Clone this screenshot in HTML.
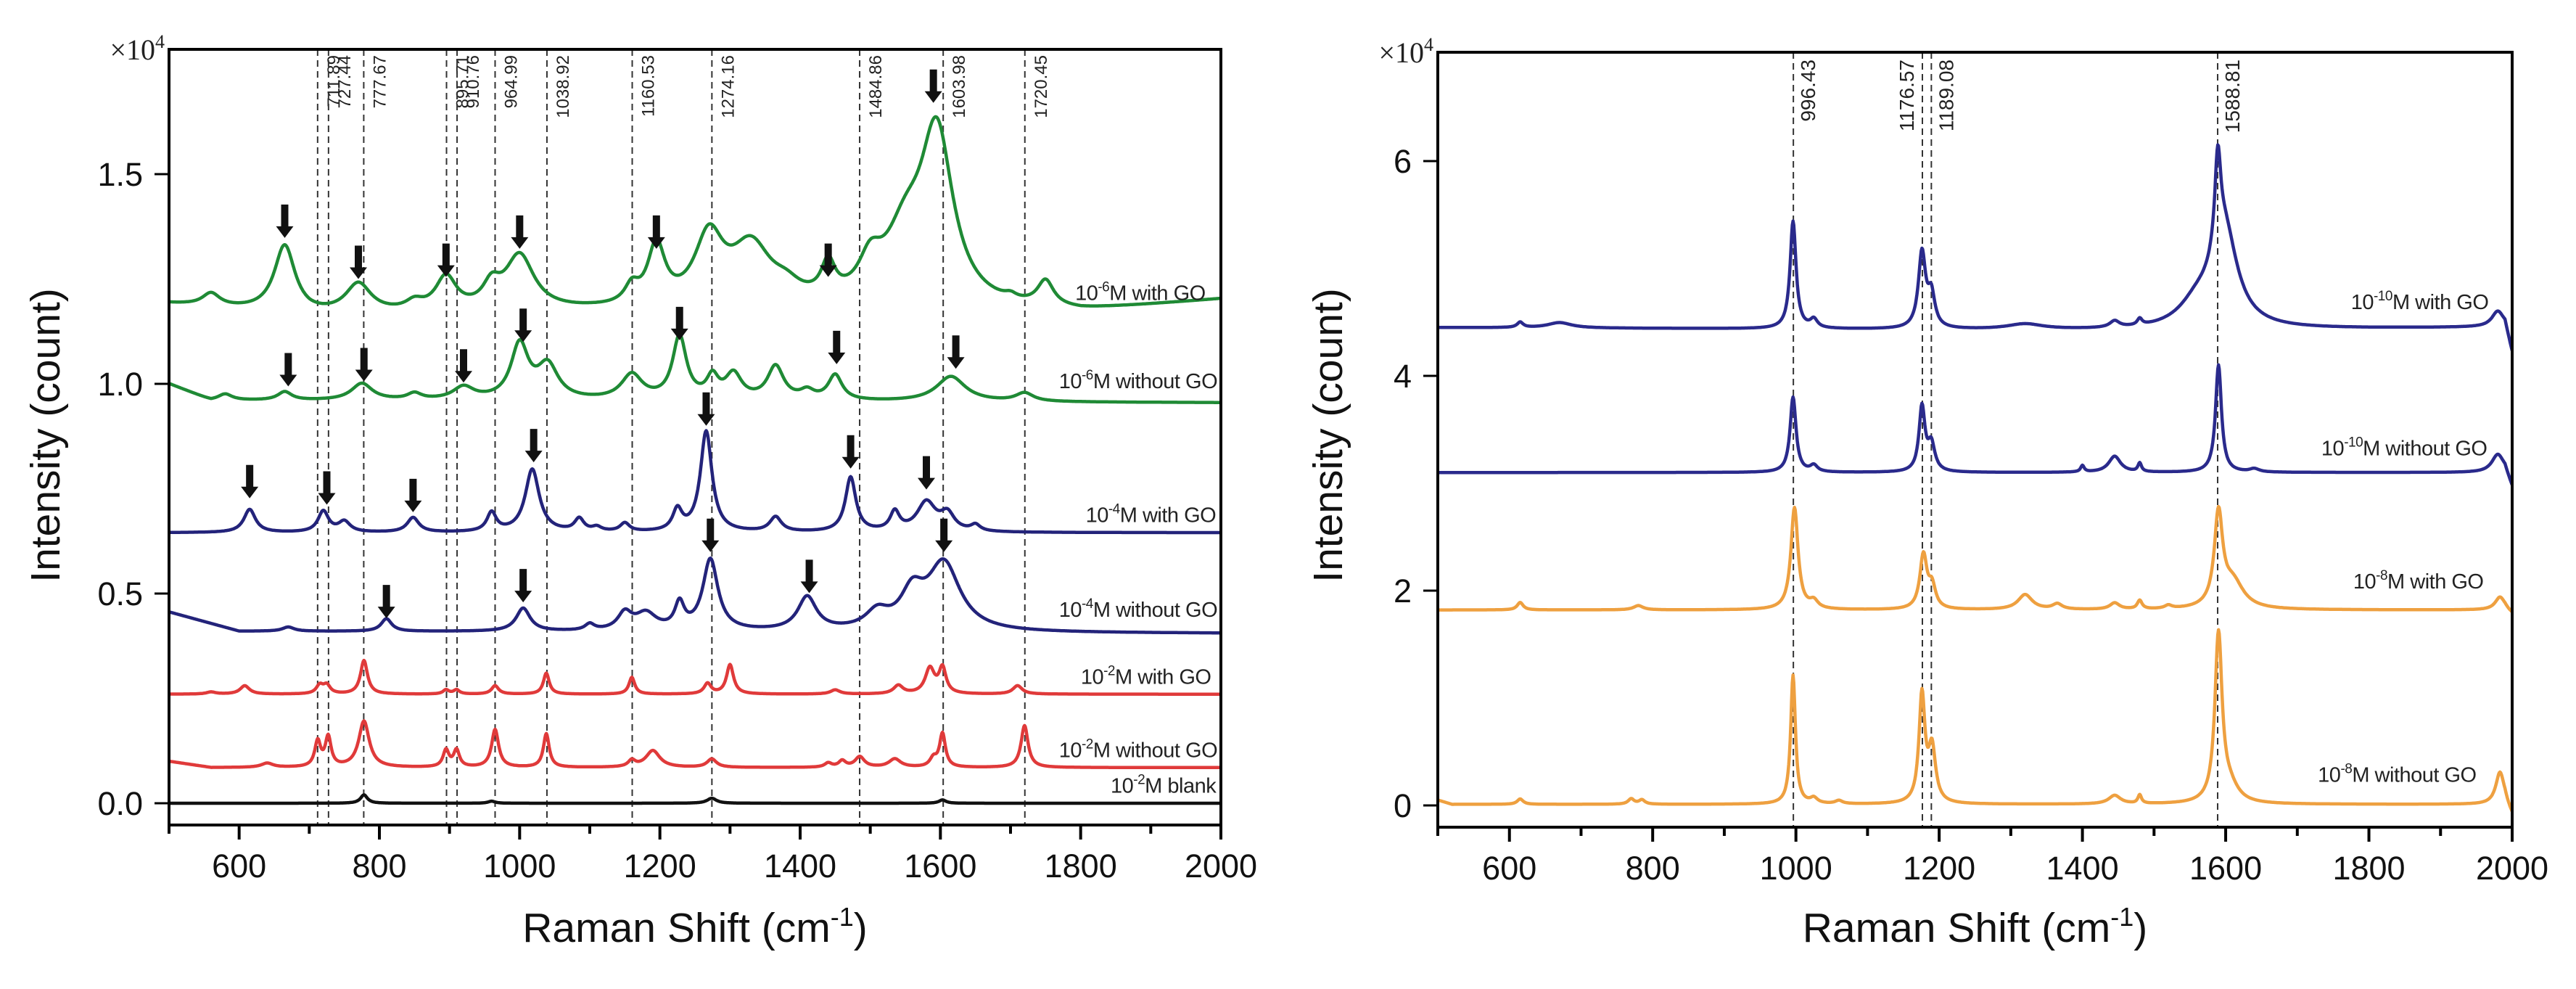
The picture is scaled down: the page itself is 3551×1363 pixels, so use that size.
<!DOCTYPE html>
<html><head><meta charset="utf-8"><style>
html,body{margin:0;padding:0;background:#fff;}
svg{display:block;font-family:"Liberation Sans",Arial,sans-serif;}
</style></head><body>
<svg id="fig" width="3551" height="1363" viewBox="0 0 3551 1363" xmlns="http://www.w3.org/2000/svg">
<defs>
<clipPath id="clipL"><rect x="233" y="68" width="1450" height="1069"/></clipPath>
<clipPath id="clipR"><rect x="1982" y="72" width="1481" height="1068"/></clipPath>
</defs>
<g id="left"></g>
<g id="right"></g>
</svg>
<script>
// ---------- LEFT CHART DATA (intensity ×10^4) ----------
const leftXTicks = [600, 800, 1000, 1200, 1400, 1600, 1800, 2000];
const leftYTicks = [0.0, 0.5, 1.0, 1.5];
const leftYTickLabels = ["0.0", "0.5", "1.0", "1.5"];
const leftRefLines = [711.89, 727.44, 777.67, 895.71, 910.76, 964.99, 1038.92, 1160.53, 1274.16, 1484.86, 1603.98, 1720.45];
const leftRefLabels = ["711.89", "727.44", "777.67", "895.71", "910.76", "964.99", "1038.92", "1160.53", "1274.16", "1484.86", "1603.98", "1720.45"];

const g1BaseX = [500, 700, 1100, 1400, 1800, 2000];
const g1BaseY = [1.19, 1.16, 1.17, 1.17, 1.17, 1.2];
const g1Pos = [560, 665, 770, 850, 895, 960, 1000, 1160, 1195, 1270, 1330, 1380, 1440, 1500, 1550, 1595, 1700, 1750];
const g1Amp = [0.03, 0.16, 0.07, 0.02, 0.08, 0.05, 0.13, 0.04, 0.14, 0.16, 0.14, 0.03, 0.08, 0.08, 0.15, 0.40, 0.01, 0.06];
const g1Wid = [15, 18, 22, 15, 18, 15, 25, 12, 15, 25, 35, 25, 12, 20, 35, 28, 10, 14];

const g2BaseX = [500, 560, 2000];
const g2BaseY = [1.0, 0.96, 0.955];
const g2Pos = [580, 665, 775, 850, 920, 1000, 1040, 1160, 1228, 1275, 1305, 1365, 1410, 1450, 1615, 1720];
const g2Amp = [0.015, 0.02, 0.04, 0.015, 0.03, 0.13, 0.08, 0.06, 0.15, 0.05, 0.06, 0.08, 0.02, 0.06, 0.06, 0.02];
const g2Wid = [12, 12, 18, 12, 18, 15, 18, 18, 12, 10, 14, 14, 12, 12, 25, 15];

const b1BaseX = [500, 2000];
const b1BaseY = [0.645, 0.645];
const b1Pos = [615, 720, 750, 848, 960, 1018, 1085, 1110, 1150, 1225, 1266, 1365, 1472, 1535, 1580, 1610, 1650];
const b1Amp = [0.055, 0.05, 0.025, 0.035, 0.045, 0.15, 0.03, 0.01, 0.02, 0.05, 0.24, 0.035, 0.13, 0.045, 0.07, 0.04, 0.015];
const b1Wid = [10, 9, 10, 10, 8, 12, 8, 8, 8, 8, 10, 10, 9, 8, 16, 12, 8];

const b2BaseX = [500, 600, 2000];
const b2BaseY = [0.456, 0.41, 0.405];
const b2Pos = [670, 810, 1005, 1100, 1150, 1180, 1228, 1272, 1410, 1510, 1560, 1605];
const b2Amp = [0.01, 0.03, 0.055, 0.015, 0.04, 0.04, 0.06, 0.17, 0.08, 0.04, 0.08, 0.16];
const b2Wid = [10, 9, 12, 8, 12, 18, 8, 13, 16, 20, 20, 28];

const r1BaseX = [500, 2000];
const r1BaseY = [0.26, 0.26];
const r1Pos = [560, 608, 715, 725, 778, 895, 910, 965, 1038, 1160, 1268, 1300, 1450, 1540, 1585, 1603, 1710];
const r1Amp = [0.005, 0.02, 0.02, 0.02, 0.08, 0.01, 0.01, 0.02, 0.05, 0.04, 0.025, 0.07, 0.01, 0.02, 0.06, 0.06, 0.02];
const r1Wid = [8, 8, 6, 6, 6, 5, 5, 6, 5, 5, 6, 6, 8, 8, 8, 6, 8];

const r2BaseX = [500, 560, 2000];
const r2BaseY = [0.10, 0.085, 0.085];
const r2Pos = [640, 712, 727, 778, 895, 910, 965, 1038, 1160, 1190, 1274, 1440, 1460, 1485, 1535, 1590, 1603, 1720];
const r2Amp = [0.01, 0.06, 0.07, 0.11, 0.04, 0.04, 0.09, 0.08, 0.015, 0.04, 0.02, 0.01, 0.015, 0.025, 0.02, 0.02, 0.08, 0.10];
const r2Wid = [10, 5, 5, 9, 5, 5, 6, 5, 6, 12, 8, 6, 6, 8, 10, 6, 5, 6];

const kBaseX = [500, 2000];
const kBaseY = [0.0, 0.0];
const kPos = [778, 960, 1274, 1603];
const kAmp = [0.02, 0.005, 0.012, 0.008];
const kWid = [6, 6, 8, 6];

const leftArrowX = [665, 770, 895, 1000, 1195, 1440, 1590, 670, 778, 920, 1005, 1228, 1452, 1622, 615, 725, 848, 1020, 1266, 1472, 1580, 810, 1005, 1272, 1413, 1605];
const leftArrowY = [1.348, 1.25, 1.255, 1.322, 1.322, 1.255, 1.67, 0.994, 1.006, 1.003, 1.10, 1.104, 1.047, 1.036, 0.727, 0.712, 0.694, 0.813, 0.90, 0.798, 0.748, 0.441, 0.479, 0.599, 0.501, 0.599];

const leftLabelExp = ["-6", "-6", "-4", "-4", "-2", "-2", "-2"];
const leftLabelText = ["M with GO", "M without GO", "M with GO", "M without GO", "M with GO", "M without GO", "M blank"];
const leftLabelX = [1978, 1995, 1993, 1995, 1986, 1995, 1993];
const leftLabelY = [1.20, 0.99, 0.67, 0.445, 0.285, 0.11, 0.025];

// ---------- RIGHT CHART DATA (intensity ×10^4) ----------
const rightXTicks = [600, 800, 1000, 1200, 1400, 1600, 1800, 2000];
const rightYTicks = [0, 2, 4, 6];
const rightYTickLabels = ["0", "2", "4", "6"];
const rightRefLines = [996.43, 1176.57, 1189.08, 1588.81];
const rightRefLabels = ["996.43", "1176.57", "1189.08", "1588.81"];

const rb1BaseX = [500, 1500, 1950, 1990, 2000];
const rb1BaseY = [4.45, 4.42, 4.45, 4.45, 4.2];
const rb1Pos = [615, 670, 996, 1025, 1176, 1189, 1320, 1445, 1480, 1560, 1589, 1598, 1980];
const rb1Amp = [0.05, 0.05, 1.0, 0.08, 0.7, 0.3, 0.05, 0.06, 0.06, 0.2, 0.85, 0.9, 0.15];
const rb1Wid = [5, 20, 5, 6, 6, 6, 30, 8, 4, 30, 5, 22, 10];

const rb2BaseX = [500, 1990, 2000];
const rb2BaseY = [3.1, 3.1, 2.95];
const rb2Pos = [996, 1025, 1176, 1189, 1400, 1445, 1480, 1590, 1640, 1980];
const rb2Amp = [0.7, 0.06, 0.6, 0.25, 0.06, 0.15, 0.08, 1.0, 0.03, 0.17];
const rb2Wid = [5, 6, 5, 6, 3, 10, 3, 5, 8, 10];

const ro1BaseX = [500, 1990, 2000];
const ro1BaseY = [1.82, 1.82, 1.78];
const ro1Pos = [615, 780, 998, 1025, 1178, 1190, 1320, 1365, 1445, 1480, 1520, 1590, 1610, 1983];
const ro1Amp = [0.07, 0.04, 0.95, 0.07, 0.5, 0.2, 0.14, 0.05, 0.06, 0.08, 0.03, 0.85, 0.25, 0.12];
const ro1Wid = [5, 8, 6, 7, 6, 6, 12, 8, 8, 4, 6, 7, 18, 8];

const ro2BaseX = [500, 520, 1990, 2000];
const ro2BaseY = [0.05, 0.01, 0.01, -0.1];
const ro2Pos = [615, 770, 785, 996, 1025, 1060, 1176, 1190, 1445, 1480, 1590, 1605, 1983];
const ro2Amp = [0.05, 0.05, 0.04, 1.2, 0.05, 0.03, 1.0, 0.5, 0.08, 0.08, 1.55, 0.15, 0.3];
const ro2Wid = [5, 5, 5, 4, 6, 6, 5, 6, 10, 3, 6, 15, 7];

const rightLabelExp = ["-10", "-10", "-8", "-8"];
const rightLabelText = ["M with GO", "M without GO", "M with GO", "M without GO"];
const rightLabelX = [1967, 1965, 1960, 1950];
const rightLabelY = [4.62, 3.26, 2.02, 0.22];

// ---------- helpers ----------
const NS = "http://www.w3.org/2000/svg";
function mk(tag, attrs, parent) {
  const e = document.createElementNS(NS, tag);
  for (const k in attrs) e.setAttribute(k, attrs[k]);
  if (parent) parent.appendChild(e);
  return e;
}
function interp(xs, ys, x) {
  if (x <= xs[0]) return ys[0];
  for (let i = 1; i < xs.length; i++) {
    if (x <= xs[i]) { const t = (x - xs[i-1]) / (xs[i] - xs[i-1]); return ys[i-1] + t * (ys[i] - ys[i-1]); }
  }
  return ys[ys.length - 1];
}
function spectrum(bx, by, pos, amp, wid, x) {
  let y = interp(bx, by, x);
  for (let i = 0; i < pos.length; i++) { const d = (x - pos[i]) / wid[i]; y += amp[i] / (1 + d * d); }
  return y;
}

function drawChart(cfg) {
  const g = cfg.g;
  const sx = v => cfg.x0 + (v - 500) / 1500 * (cfg.x1 - cfg.x0);
  const sy = v => cfg.yZero - v * cfg.pxPerUnit;
  cfg.refLines.forEach((v, i) => {
    const ln = mk("line", {x1: sx(v), x2: sx(v), y1: cfg.yTop, y2: cfg.yBot, stroke: "#333", "stroke-width": 2, "stroke-dasharray": "9,6"}, g);
    
    
    const left = cfg.labelLeft && cfg.labelLeft[i];
    const tx = left ? sx(v) - 12 : sx(v) + 30;
    const t = mk("text", {x: tx, y: cfg.refLabelY, "font-size": cfg.refFont, fill: "#222", "text-anchor": "end", transform: "rotate(-90 " + tx + " " + cfg.refLabelY + ")"}, g);
    t.textContent = cfg.refLabels[i];
    
    
  });
  const clip = mk("g", {"clip-path": cfg.clip}, g);
  cfg.series.forEach(s => {
    let d = "";
    for (let x = 500; x <= 2000; x += 1) {
      const y = spectrum(s.bx, s.by, s.pos, s.amp, s.wid, x);
      d += (x === 500 ? "M" : "L") + sx(x).toFixed(1) + "," + sy(y).toFixed(1);
    }
    const p = mk("path", {d: d, fill: "none", stroke: s.color, "stroke-width": 4.5, "stroke-linejoin": "round"}, clip);
    
    
  });
  const fr = mk("rect", {x: cfg.x0, y: cfg.yTop, width: cfg.x1 - cfg.x0, height: cfg.yBot - cfg.yTop, fill: "none", stroke: "#000", "stroke-width": 4}, g);
  
  
  for (let v = 500; v <= 2000; v += 100) {
    const major = cfg.xTicks.indexOf(v) >= 0;
    const tk = mk("line", {x1: sx(v), x2: sx(v), y1: cfg.yBot, y2: cfg.yBot + (major ? 20 : 12), stroke: "#000", "stroke-width": 4}, g);
    
    
  }
  cfg.xTicks.forEach(v => {
    const t = mk("text", {x: sx(v), y: cfg.yBot + 72, "font-size": 45, "text-anchor": "middle", fill: "#111"}, g);
    t.textContent = String(v);
    
    
  });
  cfg.yTicks.forEach((v, i) => {
    const tk = mk("line", {x1: cfg.x0 - 20, x2: cfg.x0, y1: sy(v), y2: sy(v), stroke: "#000", "stroke-width": 3}, g);
    
    
    const t = mk("text", {x: cfg.x0 - 36, y: sy(v) + 16, "font-size": 45, "text-anchor": "end", fill: "#111"}, g);
    t.textContent = cfg.yTickLabels[i];
    
    
  });
  const m = mk("text", {x: cfg.x0 - 6, y: cfg.yTop + 14, "font-size": 40, "text-anchor": "end", fill: "#222", "font-family": "Liberation Serif, serif"}, g);
  
  
  m.appendChild(document.createTextNode("\u00d710"));
  const ms = mk("tspan", {dy: -16, "font-size": 26}, m); ms.textContent = "4";
  const xt = mk("text", {x: (cfg.x0 + cfg.x1) / 2, y: 1298, "font-size": 57, "text-anchor": "middle", fill: "#111"}, g);
  
  
  xt.appendChild(document.createTextNode("Raman Shift (cm"));
  const xs1 = mk("tspan", {dy: -22, "font-size": 36}, xt); xs1.textContent = "-1";
  const xs2 = mk("tspan", {dy: 22}, xt); xs2.textContent = ")";
  const yt = mk("text", {x: cfg.yTitleX, y: 600, "font-size": 57, "text-anchor": "middle", fill: "#111", transform: "rotate(-90 " + cfg.yTitleX + " 600)"}, g);
  yt.textContent = "Intensity (count)";
  
  
  cfg.labelX.forEach((lx, i) => {
    const t = mk("text", {x: sx(lx), y: sy(cfg.labelY[i]), "font-size": 29, "text-anchor": "end", fill: "#222", "letter-spacing": "-0.5"}, g);
    
    
    t.appendChild(document.createTextNode("10"));
    const sp = mk("tspan", {dy: -12, "font-size": 19}, t); sp.textContent = cfg.labelExp[i];
    const rest = mk("tspan", {dy: 12}, t); rest.textContent = cfg.labelText[i];
  });
  (cfg.arrowX || []).forEach((ax, i) => {
    const X = sx(ax), Y = sy(cfg.arrowY[i]);
    const d = "M" + X + "," + Y + " L" + (X - 12) + "," + (Y - 16) + " L" + (X - 5) + "," + (Y - 16) + " L" + (X - 5) + "," + (Y - 46) + " L" + (X + 5) + "," + (Y - 46) + " L" + (X + 5) + "," + (Y - 16) + " L" + (X + 12) + "," + (Y - 16) + " Z";
    const a = mk("path", {d: d, fill: "#111"}, g);
    
    
  });
}

drawChart({
  g: document.getElementById("left"), x0: 233, x1: 1683, yTop: 68, yBot: 1137, yZero: 1107, pxPerUnit: 578,
  clip: "url(#clipL)", xTicks: leftXTicks, yTicks: leftYTicks, yTickLabels: leftYTickLabels,
  refLines: leftRefLines, refLabels: leftRefLabels, refLabelY: 76, refFont: 24, yTitleX: 82,
  series: [
    {name: "series-1e-6-with-go", color: "#1f8a35", bx: g1BaseX, by: g1BaseY, pos: g1Pos, amp: g1Amp, wid: g1Wid},
    {name: "series-1e-6-without-go", color: "#1f8a35", bx: g2BaseX, by: g2BaseY, pos: g2Pos, amp: g2Amp, wid: g2Wid},
    {name: "series-1e-4-with-go", color: "#23237a", bx: b1BaseX, by: b1BaseY, pos: b1Pos, amp: b1Amp, wid: b1Wid},
    {name: "series-1e-4-without-go", color: "#23237a", bx: b2BaseX, by: b2BaseY, pos: b2Pos, amp: b2Amp, wid: b2Wid},
    {name: "series-1e-2-with-go", color: "#e03a3a", bx: r1BaseX, by: r1BaseY, pos: r1Pos, amp: r1Amp, wid: r1Wid},
    {name: "series-1e-2-without-go", color: "#e03a3a", bx: r2BaseX, by: r2BaseY, pos: r2Pos, amp: r2Amp, wid: r2Wid},
    {name: "series-1e-2-blank", color: "#111", bx: kBaseX, by: kBaseY, pos: kPos, amp: kAmp, wid: kWid}
  ],
  labelX: leftLabelX, labelY: leftLabelY, labelExp: leftLabelExp, labelText: leftLabelText,
  arrowX: leftArrowX, arrowY: leftArrowY
});

drawChart({
  g: document.getElementById("right"), x0: 1982, x1: 3463, yTop: 72, yBot: 1140, yZero: 1110, pxPerUnit: 148,
  clip: "url(#clipR)", xTicks: rightXTicks, yTicks: rightYTicks, yTickLabels: rightYTickLabels,
  refLines: rightRefLines, refLabels: rightRefLabels, refLabelY: 82, refFont: 28, yTitleX: 1850,
  labelLeft: [false, true, false, false],
  series: [
    {name: "series-1e-10-with-go", color: "#2a2a8c", bx: rb1BaseX, by: rb1BaseY, pos: rb1Pos, amp: rb1Amp, wid: rb1Wid},
    {name: "series-1e-10-without-go", color: "#2a2a8c", bx: rb2BaseX, by: rb2BaseY, pos: rb2Pos, amp: rb2Amp, wid: rb2Wid},
    {name: "series-1e-8-with-go", color: "#eea040", bx: ro1BaseX, by: ro1BaseY, pos: ro1Pos, amp: ro1Amp, wid: ro1Wid},
    {name: "series-1e-8-without-go", color: "#eea040", bx: ro2BaseX, by: ro2BaseY, pos: ro2Pos, amp: ro2Amp, wid: ro2Wid}
  ],
  labelX: rightLabelX, labelY: rightLabelY, labelExp: rightLabelExp, labelText: rightLabelText
});
</script>
</body></html>
